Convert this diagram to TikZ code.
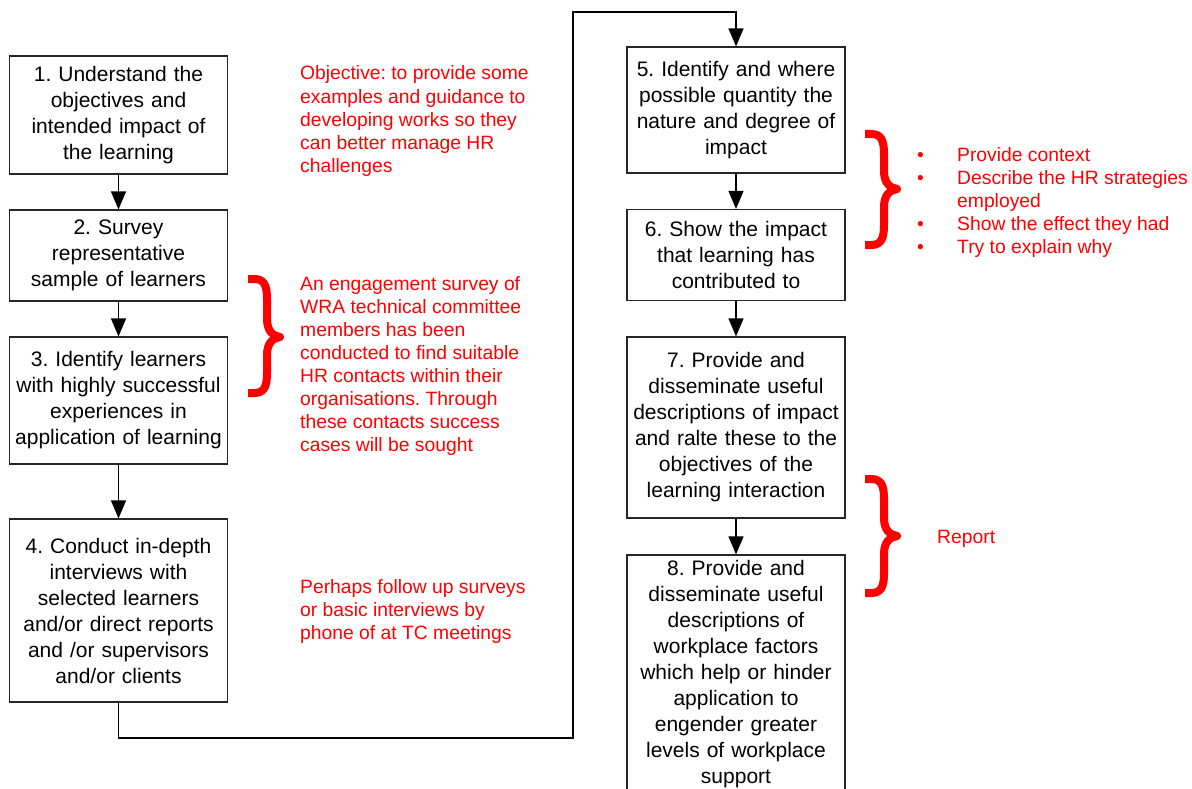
\documentclass[tikz,border=0pt]{standalone}
\usepackage{fontspec}
\setmainfont{Liberation Sans}
\usetikzlibrary{arrows.meta}
\definecolor{notered}{RGB}{255,0,0}
\frenchspacing

% curly brace drawn as one thick stroke: left x, top y, tip y, bottom y
\newcommand\redbrace[4]{%
  \draw[bracestroke] (#1,#2+4) -- (#1+6,#2+4)
    .. controls (#1+16,#2+4) and (#1+19,#2+10) .. (#1+19,#2+24)
    -- (#1+19,#3-18)
    .. controls (#1+19,#3-6) and (#1+25,#3-1) .. (#1+32,#3)
    .. controls (#1+25,#3+1) and (#1+19,#3+6) .. (#1+19,#3+18)
    -- (#1+19,#4-24)
    .. controls (#1+19,#4-10) and (#1+16,#4-4) .. (#1+6,#4-4)
    -- (#1,#4-4);}

\begin{document}
\begin{tikzpicture}[x=1pt,y=-1pt,
  stepbox/.style={draw=black!85, line width=1.2pt, inner sep=0pt, align=center,
    font=\fontsize{21}{26}\selectfont, minimum width=218pt, text width=214pt},
  flow/.style={draw=black, line width=1.3pt, -{Triangle[width=15pt,length=18pt]}},
  note/.style={text=notered, align=left, anchor=base west, inner sep=0pt,
    font=\fontsize{19.3}{23.1}\selectfont},
  bracestroke/.style={draw=notered, line width=8pt, line join=round}]

\useasboundingbox (0,0) rectangle (1192,789);
\clip (0,0) rectangle (1192,789);

% left column of steps
\node[stepbox, minimum height=118pt] (s1) at (118.5,115)
  {1. Understand the\\objectives and\\intended impact of\\the learning};
\node[stepbox, minimum height=91pt] (s2) at (118.5,255.5)
  {2. Survey\\representative\\sample of learners};
\node[stepbox, minimum height=127pt] (s3) at (118.5,400.5)
  {3. Identify learners\\with highly successful\\experiences in\\application of learning};
\node[stepbox, minimum height=183pt] (s4) at (118.5,610.5)
  {4. Conduct in-depth\\interviews with\\selected learners\\and/or direct reports\\and /or supervisors\\and/or clients};

% right column of steps
\node[stepbox, minimum height=126pt] (s5) at (736,110)
  {5. Identify and where\\possible quantity the\\nature and degree of\\impact};
\node[stepbox, minimum height=91pt] (s6) at (736,255)
  {6. Show the impact\\that learning has\\contributed to};
\node[stepbox, minimum height=181pt] (s7) at (736,427.5)
  {7. Provide and\\disseminate useful\\descriptions of impact\\and ralte these to the\\objectives of the\\learning interaction};
\node[stepbox, minimum height=238pt] (s8) at (736,674)
  {8. Provide and\\disseminate useful\\descriptions of\\workplace factors\\which help or hinder\\application to\\engender greater\\levels of workplace\\support};

% connectors
\draw[flow] (s1) -- (s2);
\draw[flow] (s2) -- (s3);
\draw[flow] (s3) -- (s4);
\coordinate (loopA) at (573,738);
\coordinate (loopB) at (573,12);
\draw[flow] (s4.south) |- (loopA) -- (loopB) -| (s5.north);
\draw[flow] (s5) -- (s6);
\draw[flow] (s6) -- (s7);
\draw[flow] (s7) -- (s8);

% red annotations (placed by the baseline of their last line)
\node[note] (objective) at (300,172.4)
  {Objective: to provide some\\examples and guidance to\\developing works so they\\can better manage HR\\challenges};
\node[note] (survey) at (300,451.7)
  {An engagement survey of\\WRA technical committee\\members has been\\conducted to find suitable\\HR contacts within their\\organisations. Through\\these contacts success\\cases will be sought};
\node[note] (followup) at (300,639.2)
  {Perhaps follow up surveys\\or basic interviews by\\phone of at TC meetings};
\node[note] (points) at (917,253.4)
  {\makebox[40pt][l]{•}Provide context\\
   \makebox[40pt][l]{•}Describe the HR strategies\\
   \hspace*{40pt}employed\\
   \makebox[40pt][l]{•}Show the effect they had\\
   \makebox[40pt][l]{•}Try to explain why};
\node[note] (report) at (937,543) {Report};

% braces
\redbrace{248}{275}{337}{397}
\redbrace{865}{130}{189}{249}
\redbrace{865}{475}{536}{597}

\end{tikzpicture}
\end{document}
